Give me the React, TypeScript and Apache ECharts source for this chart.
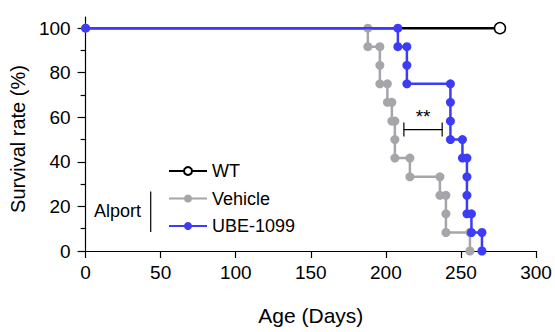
import React, { useEffect, useRef } from 'react';
import * as echarts from 'echarts';

const xTicks = [0, 50, 100, 150, 200, 250, 300];
const yMajor = [0, 20, 40, 60, 80, 100];
const yMinor = [10, 30, 50, 70, 90];

const seriesNames = ['WT', 'Vehicle', 'UBE-1099'];

const wtDays = [0, 276];
const wtSurvival = [100, 100];

const vehicleDays = [188, 196, 196, 201, 204, 206, 206, 216, 236, 240, 240, 256];
const vehicleSurvival = [91.7, 83.3, 75, 66.7, 58.3, 50, 41.7, 33.3, 25, 16.7, 8.3, 0];

const ubeDays = [208, 214, 214, 243, 243, 243, 251, 254, 254, 254, 257, 264];
const ubeSurvival = [91.7, 83.3, 75, 66.7, 58.3, 50, 41.7, 33.3, 25, 16.7, 8.3, 0];

// significance bracket: [start day, end day, survival level]
const sigBracket = [212, 237.5, 54.5];
const sigLabel = '**';

const FONT = '"Liberation Sans", Arial, Helvetica, sans-serif';
const BLUE = '#3c3cf6';
const GRAY = '#a6a6aa';

function staircase(days: number[], surv: number[]) {
  const pts: number[][] = [[0, 100]];
  let prev = 100;
  for (let i = 0; i < days.length; i++) {
    const last = pts[pts.length - 1];
    if (!(last[0] === days[i] && last[1] === prev)) pts.push([days[i], prev]);
    pts.push([days[i], surv[i]]);
    prev = surv[i];
  }
  return pts;
}

export default function App() {
  const ref = useRef<HTMLDivElement>(null);
  useEffect(() => {
    if (!ref.current) return;
    const chart = echarts.init(ref.current, undefined, { renderer: 'svg' });
    const wtData = wtDays.map((d, i) =>
      i === 0 ? { value: [d, wtSurvival[i]], symbol: 'none' } : { value: [d, wtSurvival[i]] }
    );
    chart.setOption({
      animation: false,
      textStyle: { fontFamily: FONT },
      grid: { left: 84, right: 19, top: 17, bottom: 81, containLabel: false },
      xAxis: {
        type: 'value',
        min: 0,
        max: 300,
        interval: 50,
        name: 'Age (Days)',
        nameLocation: 'middle',
        nameGap: 54,
        nameTextStyle: { fontSize: 21, color: '#000', fontFamily: FONT },
        axisLine: { show: true, lineStyle: { color: '#000', width: 1.2 } },
        axisTick: { show: true, length: 7, lineStyle: { color: '#000', width: 1.2 }, customValues: xTicks },
        axisLabel: { fontSize: 19, color: '#000', margin: 12, fontFamily: FONT, customValues: xTicks },
        splitLine: { show: false },
      },
      yAxis: [
        {
          type: 'value',
          min: 0,
          max: 105,
          interval: 20,
          name: 'Survival rate (%)',
          nameLocation: 'middle',
          nameGap: 52,
          nameTextStyle: { fontSize: 20, color: '#000', fontFamily: FONT, padding: [0, 10, 0, 0] },
          axisLine: { show: true, lineStyle: { color: '#000', width: 1.2 } },
          axisTick: { show: true, length: 8, lineStyle: { color: '#000', width: 1.2 }, customValues: yMajor },
          axisLabel: {
            fontSize: 19,
            color: '#000',
            margin: 15,
            fontFamily: FONT,
            customValues: yMajor,
            formatter: (v: number) => (yMajor.indexOf(v) >= 0 ? String(v) : ''),
          },
          splitLine: { show: false },
        },
        {
          type: 'value',
          min: 0,
          max: 105,
          position: 'left',
          axisLine: { show: false },
          axisTick: { show: true, length: 5, lineStyle: { color: '#000', width: 1.2 }, customValues: yMinor },
          axisLabel: { show: false },
          splitLine: { show: false },
        },
      ],
      legend: {
        data: seriesNames,
        orient: 'vertical',
        left: 163,
        top: 156,
        itemWidth: 38,
        itemHeight: 10,
        itemGap: 7.5,
        textStyle: { fontSize: 18, color: '#000', fontFamily: FONT, lineHeight: 20 },
        selectedMode: false,
      },
      graphic: [
        {
          type: 'text',
          left: 94,
          top: 202,
          style: { text: 'Alport', fontSize: 18, fill: '#000', fontFamily: FONT },
        },
        {
          type: 'line',
          shape: { x1: 150.7, y1: 191.5, x2: 150.7, y2: 232 },
          style: { stroke: '#000', lineWidth: 1.2 },
        },
      ],
      series: [
        {
          name: 'WT',
          type: 'line',
          data: wtData,
          symbol: 'circle',
          symbolSize: 11,
          showAllSymbol: true,
          lineStyle: { color: '#000', width: 2.5 },
          itemStyle: { color: '#fff', borderColor: '#000', borderWidth: 1.5 },
          z: 2,
        },
        {
          name: 'Vehicle',
          type: 'line',
          data: staircase(vehicleDays, vehicleSurvival),
          symbol: 'circle',
          symbolSize: 9,
          showAllSymbol: true,
          lineStyle: { color: GRAY, width: 2.5 },
          itemStyle: { color: GRAY },
          z: 3,
        },
        {
          name: 'UBE-1099',
          type: 'line',
          data: staircase(ubeDays, ubeSurvival),
          symbol: 'circle',
          symbolSize: 9,
          showAllSymbol: true,
          lineStyle: { color: BLUE, width: 2.5 },
          itemStyle: { color: BLUE },
          z: 4,
        },
        {
          type: 'custom',
          silent: true,
          z: 5,
          encode: { x: [0, 1], y: 2 },
          data: [sigBracket],
          renderItem: (params: any, api: any) => {
            const p1 = api.coord([api.value(0), api.value(2)]);
            const p2 = api.coord([api.value(1), api.value(2)]);
            const st = { stroke: '#000', lineWidth: 1.2 };
            return {
              type: 'group',
              children: [
                { type: 'line', shape: { x1: p1[0], y1: p1[1], x2: p2[0], y2: p2[1] }, style: st },
                { type: 'line', shape: { x1: p1[0], y1: p1[1] - 7, x2: p1[0], y2: p1[1] + 7 }, style: st },
                { type: 'line', shape: { x1: p2[0], y1: p2[1] - 7, x2: p2[0], y2: p2[1] + 7 }, style: st },
                {
                  type: 'text',
                  style: {
                    text: sigLabel,
                    x: (p1[0] + p2[0]) / 2,
                    y: p1[1] - 13,
                    textAlign: 'center',
                    textVerticalAlign: 'middle',
                    fontSize: 19,
                    fill: '#000',
                    fontFamily: FONT,
                  },
                },
              ],
            };
          },
        },
      ],
    });
    return () => chart.dispose();
  }, []);
  return <div ref={ref} style={{ width: 555, height: 332, position: 'absolute', left: 0, top: 0 }} />;
}
